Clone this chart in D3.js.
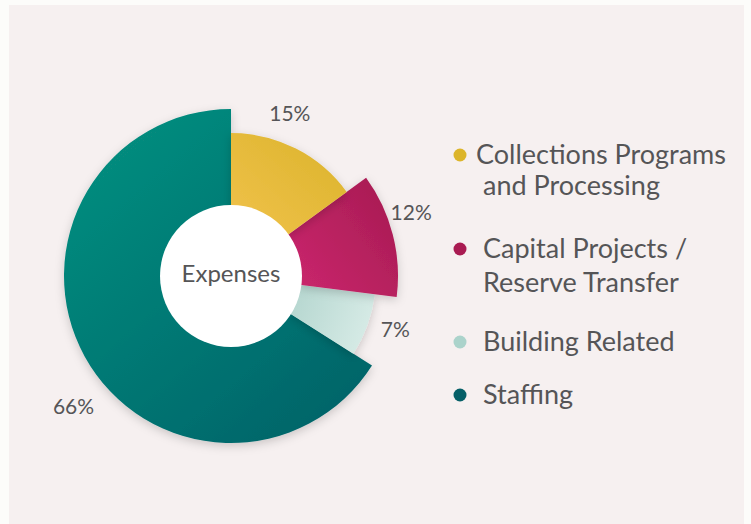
<!DOCTYPE html>
<html>
<head>
<meta charset="utf-8">
<script src="https://cdn.jsdelivr.net/npm/d3@7"></script>
<style>
  html, body { margin: 0; padding: 0; background: #fcfcfa; }
  svg { display: block; }
  text { font-family: "Lato", "Open Sans", sans-serif; fill: #555557; }
</style>
</head>
<body>
<svg id="chart"></svg>
<script>
const width = 751;
const height = 524;

// data
const categories = ["Collections Programs and Processing", "Capital Projects / Reserve Transfer", "Building Related", "Staffing"];
const values = [15, 12, 7, 66];
const pctLabels = ["15%", "12%", "7%", "66%"];
const legendLines = [["Collections Programs", "and Processing"], ["Capital Projects /", "Reserve Transfer"], ["Building Related"], ["Staffing"]];
const centerLabel = "Expenses";

const svg = d3.select("#chart")
  .attr("width", width)
  .attr("height", height);

// panel
svg.append("rect")
  .attr("x", 9).attr("y", 5)
  .attr("width", 735).attr("height", height)
  .attr("fill", "#f6f0f0");

const defs = svg.append("defs");

const shadow = defs.append("filter")
  .attr("id", "shadow")
  .attr("x", "-30%").attr("y", "-30%")
  .attr("width", "160%").attr("height", "160%");
shadow.append("feDropShadow")
  .attr("dx", 0).attr("dy", 3)
  .attr("stdDeviation", 5)
  .attr("flood-color", "#000")
  .attr("flood-opacity", 0.18);

// per-slice look: gradient stops, direction, outer radius
const sliceStyle = [
  { from: "#f1c24c", to: "#dab32a", x1: 0, y1: 1, x2: 1, y2: 0, r: 143 },
  { from: "#c9266c", to: "#a51b51", x1: 0, y1: 0.8, x2: 1, y2: 0, r: 167 },
  { from: "#b3d5ce", to: "#d5eae5", x1: 0, y1: 0, x2: 1, y2: 0.3, r: 145 },
  { from: "#079080", to: "#006268", x1: 0.1, y1: 0, x2: 0.9, y2: 1, r: 167 }
];
const dotColors = ["#dcb52a", "#a91b52", "#abd3cb", "#055f67"];

sliceStyle.forEach((s, i) => {
  const g = defs.append("linearGradient")
    .attr("id", "grad" + i)
    .attr("x1", s.x1).attr("y1", s.y1)
    .attr("x2", s.x2).attr("y2", s.y2);
  g.append("stop").attr("offset", "0%").attr("stop-color", s.from);
  g.append("stop").attr("offset", "100%").attr("stop-color", s.to);
});

const cx = 231, cy = 276;
const innerR = 71;

const pie = d3.pie().sort(null).value(d => d);
const arcs = pie(values);

const arc = d3.arc()
  .innerRadius(innerR - 2)
  .outerRadius(d => sliceStyle[d.index].r);

const g = svg.append("g").attr("transform", `translate(${cx},${cy})`);

// teal drawn first so the smaller slices sit on top of it
const drawOrder = [3, 2, 1, 0];
g.selectAll("path.slice")
  .data(drawOrder.map(i => arcs[i]))
  .enter()
  .append("path")
  .attr("class", "slice")
  .attr("d", arc)
  .attr("fill", d => `url(#grad${d.index})`)
  .attr("filter", "url(#shadow)");

g.append("circle")
  .attr("r", innerR)
  .attr("fill", "#ffffff");

g.append("text")
  .attr("text-anchor", "middle")
  .attr("y", 6)
  .style("font-size", "24px")
  .text(centerLabel);

// percent labels: angle shift (deg) and radius from centre
const labelPlace = [
  { dA: -7, r: 172 },
  { dA: -5, r: 191 },
  { dA: -1.5, r: 173 },
  { dA: -11, r: 205 }
];
g.selectAll("text.pct")
  .data(arcs)
  .enter()
  .append("text")
  .attr("class", "pct")
  .attr("text-anchor", "middle")
  .style("font-size", "21px")
  .attr("transform", d => {
    const p = labelPlace[d.index];
    const a = (d.startAngle + d.endAngle) / 2 + p.dA * Math.PI / 180;
    return `translate(${p.r * Math.sin(a)},${-p.r * Math.cos(a) + 7})`;
  })
  .text(d => pctLabels[d.index]);

// legend
const legendY = d3.scaleOrdinal()
  .domain(categories)
  .range([155, 249, 342, 395]);

const legend = svg.append("g");
categories.forEach((c, i) => {
  const y = legendY(c);
  legend.append("circle")
    .attr("cx", 460).attr("cy", y)
    .attr("r", 6.5)
    .attr("fill", dotColors[i]);
  const t = legend.append("text")
    .attr("x", i === 0 ? 476 : 483)
    .attr("y", y + 9)
    .style("font-size", "27px");
  legendLines[i].forEach((line, j) => {
    t.append("tspan")
      .attr("x", i === 0 && j === 0 ? 476 : 483)
      .attr("dy", j === 0 ? 0 : (i === 0 ? 31 : 34))
      .text(line);
  });
});
</script>
</body>
</html>
